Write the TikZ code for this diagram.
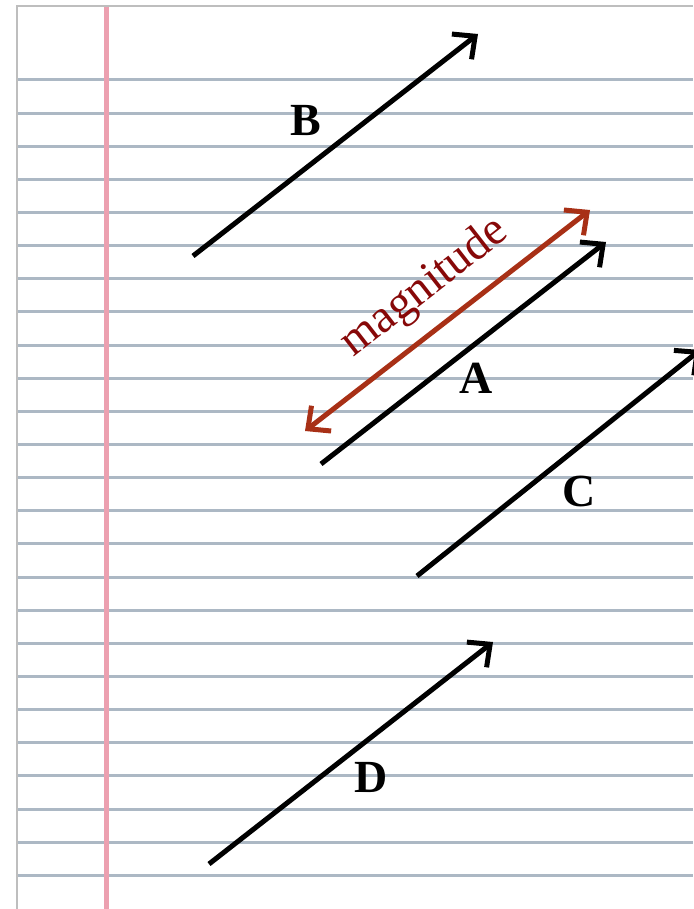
\documentclass[tikz,border=0pt]{standalone}
\usepackage{fontspec}
\setmainfont{Liberation Serif}
\usetikzlibrary{arrows.meta}
\definecolor{rule}{RGB}{172,184,196}
\definecolor{marginpink}{RGB}{236,160,176}
\definecolor{frame}{RGB}{190,190,190}
\definecolor{magarrow}{RGB}{168,48,22}
\definecolor{magtext}{RGB}{135,8,8}
\tikzset{
  vec/.style={line width=5pt, black, -{Straight Barb[length=17pt,width=32pt,line width=5pt]}},
  magvec/.style={line width=5pt, magarrow, {Straight Barb[length=17pt,width=32pt,line width=5pt]}-{Straight Barb[length=17pt,width=32pt,line width=5pt]}},
  lbl/.style={font=\fontsize{46}{46}\selectfont\bfseries, inner sep=0pt},
}
\begin{document}
\begin{tikzpicture}[x=1pt,y=-1pt]
\useasboundingbox (0,0) rectangle (693,909);
\fill[white] (0,0) rectangle (693,909);
% ruled lines
\foreach \k in {0,...,24} {
  \draw[rule, line width=3pt] (17,{80+33.14*\k}) -- (693,{80+33.14*\k});
}
% frame
\draw[frame, line width=2.6pt] (17,909) -- (17,6) -- (693,6);
% margin
\draw[marginpink, line width=5pt] (106,7) -- (106,909);
% coordinates
\coordinate (Bs) at (193,256); \coordinate (Be) at (478,34);
\coordinate (Ms) at (305,431); \coordinate (Me) at (590,210);
\coordinate (As) at (321,464); \coordinate (Ae) at (606,242);
\coordinate (Cs) at (417,576); \coordinate (Ce) at (700,350);
\coordinate (Ds) at (209,864); \coordinate (De) at (493,642);
\draw[vec] (Bs) -- (Be);
\draw[magvec] (Ms) -- (Me);
\draw[vec] (As) -- (Ae);
\draw[vec] (Cs) -- (Ce);
\draw[vec] (Ds) -- (De);
\node[lbl] (lB) at (306,121) {B};
\node[lbl] (lA) at (476,378) {A};
\node[lbl] (lC) at (579,491) {C};
\node[lbl] (lD) at (371,777) {D};
\node[magtext, font=\fontsize{47}{47}\selectfont, rotate=38, inner sep=0pt] (mag) at (425,288) {magnitude};
\end{tikzpicture}
\end{document}
